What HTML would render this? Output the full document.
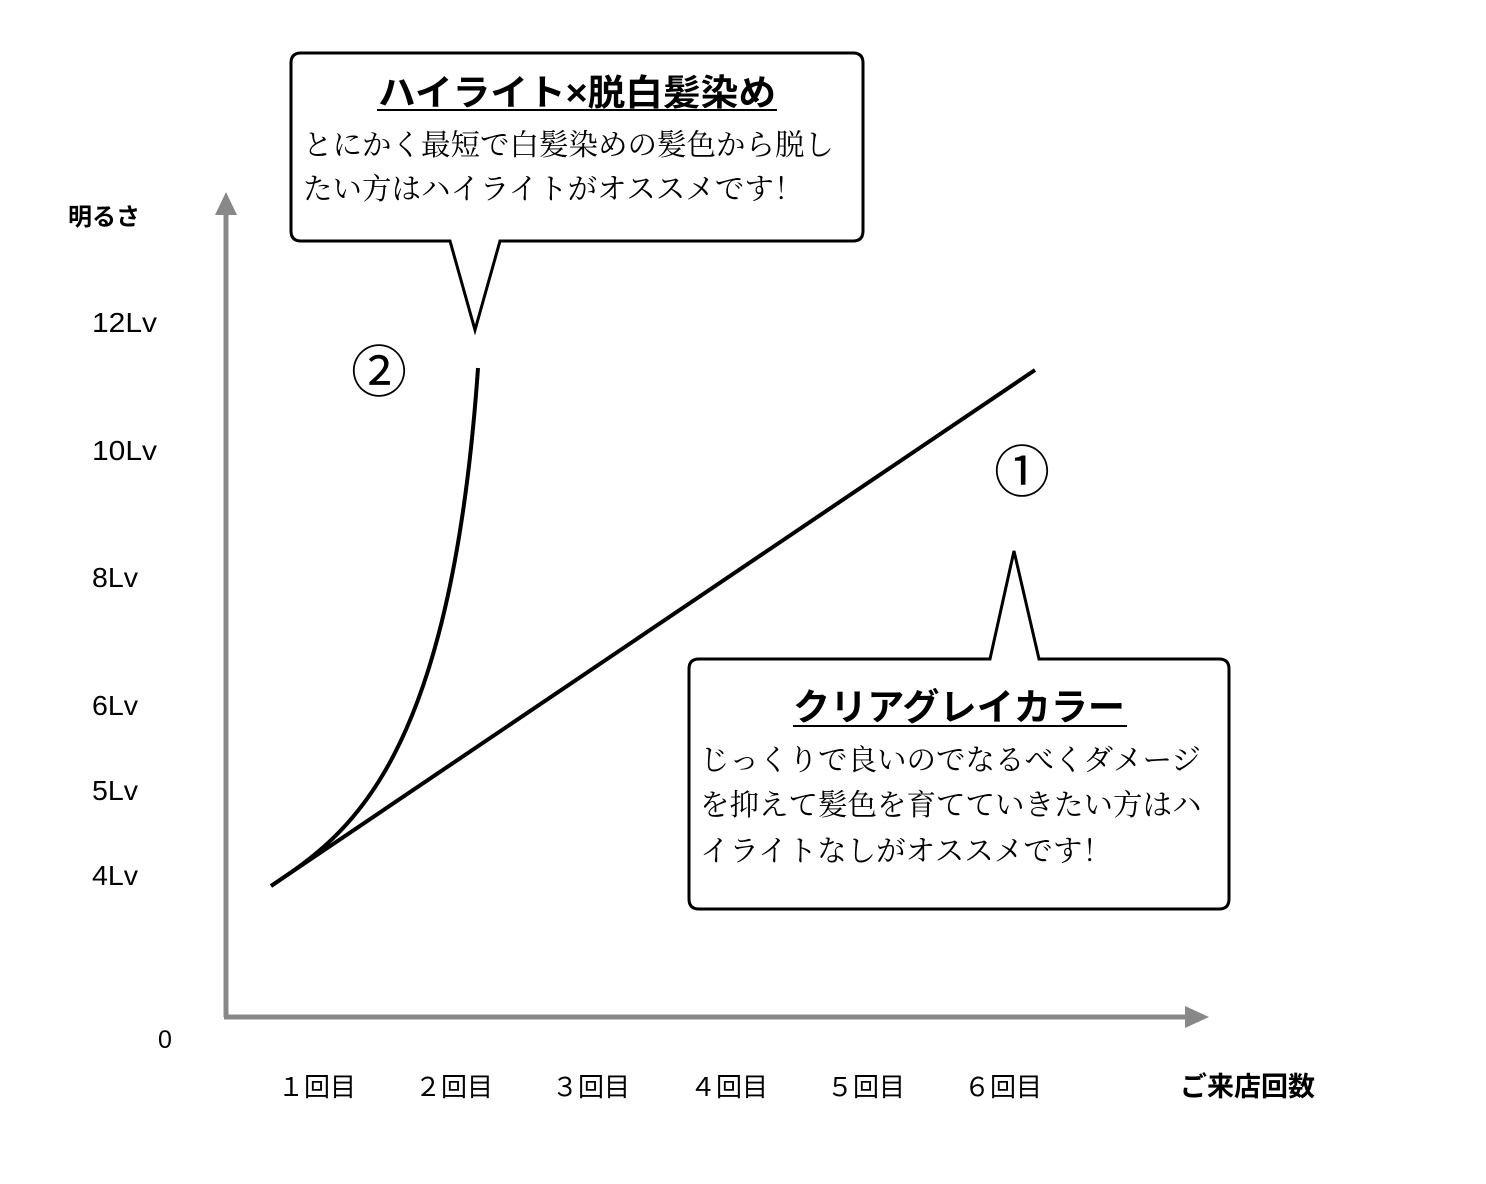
<!DOCTYPE html>
<html><head><meta charset="utf-8"><style>
html,body{margin:0;padding:0;background:#fff;}
svg{display:block;}
.s{font-family:"Liberation Sans","Noto Sans CJK JP",sans-serif;}
.m{font-family:"Noto Serif CJK SC","Liberation Serif",serif;}
</style></head><body>
<svg width="1486" height="1184" viewBox="0 0 1486 1184" xmlns="http://www.w3.org/2000/svg">
<rect width="1486" height="1184" fill="#fff"/>
<line x1="226" y1="1017" x2="226" y2="210" stroke="#888" stroke-width="5"/>
<polygon points="226,192 215,215 237,215" fill="#888"/>
<line x1="224" y1="1017" x2="1190" y2="1017" stroke="#888" stroke-width="5"/>
<polygon points="1209,1017 1185,1006 1185,1028" fill="#888"/>
<g class="s" fill="#000" font-size="28">
<text x="68" y="225" font-weight="bold" font-size="24">明るさ</text>
<text x="92" y="332" textLength="65" lengthAdjust="spacingAndGlyphs">12Lv</text>
<text x="92" y="460" textLength="65" lengthAdjust="spacingAndGlyphs">10Lv</text>
<text x="92" y="587" textLength="46" lengthAdjust="spacingAndGlyphs">8Lv</text>
<text x="92" y="715" textLength="46" lengthAdjust="spacingAndGlyphs">6Lv</text>
<text x="92" y="800" textLength="46" lengthAdjust="spacingAndGlyphs">5Lv</text>
<text x="92" y="885" textLength="46" lengthAdjust="spacingAndGlyphs">4Lv</text>
<text x="158" y="1048" font-size="25">0</text>
<g font-size="26">
<text x="278" y="1096">１回目</text>
<text x="415" y="1096">２回目</text>
<text x="552" y="1096">３回目</text>
<text x="690" y="1096">４回目</text>
<text x="827" y="1096">５回目</text>
<text x="964" y="1096">６回目</text>
<text x="1180" y="1096" font-weight="bold" font-size="27">ご来店回数</text>
</g>
<text x="351" y="392" font-size="56">②</text>
<text x="994" y="492" font-size="56">①</text>
</g>
<line x1="271" y1="886" x2="1035" y2="370" stroke="#000" stroke-width="4"/>
<path d="M271,886 C 345,836 450,770 478,368" fill="none" stroke="#000" stroke-width="4"/>
<path d="M301,53 H853 Q863,53 863,63 V231 Q863,241 853,241 H500 L475,330 L450,241 H301 Q291,241 291,231 V63 Q291,53 301,53 Z" fill="#fff" stroke="#000" stroke-width="3"/>
<text class="s" x="577" y="105" text-anchor="middle" font-size="36" font-weight="bold" textLength="398" lengthAdjust="spacingAndGlyphs">ハイライト×脱白髪染め</text>
<line x1="377" y1="110" x2="777" y2="110" stroke="#000" stroke-width="2"/>
<g class="m" font-size="29.5">
<text x="303" y="155">とにかく最短で白髪染めの髪色から脱し</text>
<text x="303" y="199">たい方はハイライトがオススメです！</text>
</g>
<path d="M699,659 H990 L1014,551 L1039,659 H1219 Q1229,659 1229,669 V899 Q1229,909 1219,909 H699 Q689,909 689,899 V669 Q689,659 699,659 Z" fill="#fff" stroke="#000" stroke-width="3"/>
<text class="s" x="959" y="720" text-anchor="middle" font-size="37" font-weight="bold" textLength="332" lengthAdjust="spacingAndGlyphs">クリアグレイカラー</text>
<line x1="793" y1="726" x2="1127" y2="726" stroke="#000" stroke-width="2"/>
<g class="m" font-size="29.5">
<text x="700" y="770">じっくりで良いのでなるべくダメージ</text>
<text x="700" y="815">を抑えて髪色を育てていきたい方はハ</text>
<text x="700" y="861">イライトなしがオススメです！</text>
</g>
</svg>
</body></html>
